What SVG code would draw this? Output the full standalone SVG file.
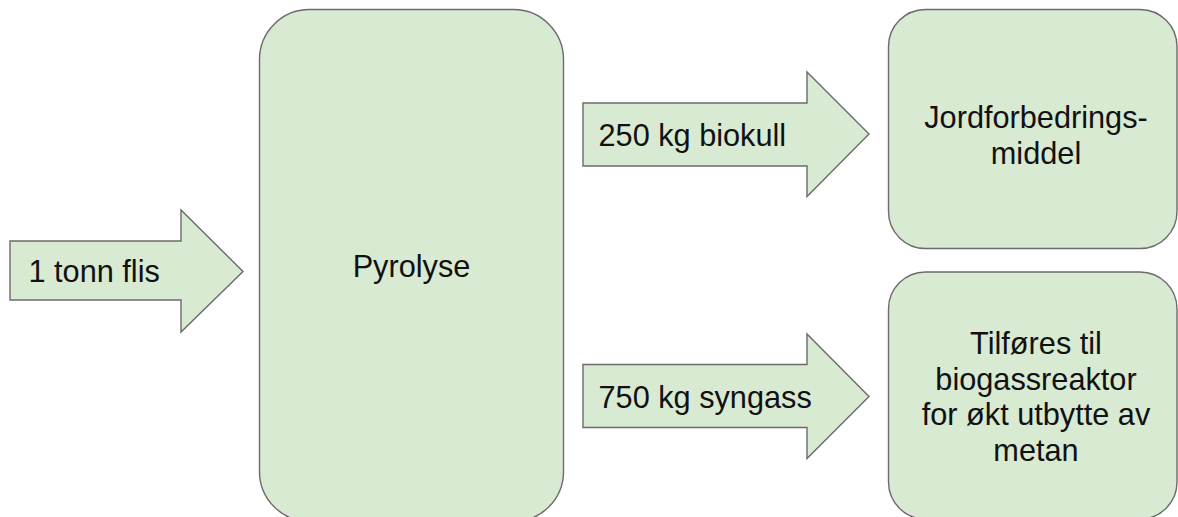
<svg xmlns="http://www.w3.org/2000/svg" width="1178" height="517" viewBox="0 0 1178 517">
  <style>
    .shape { fill: #d9ead3; stroke: #6b6b6b; stroke-width: 1.4; }
    .label { font-family: "Liberation Sans", Arial, sans-serif; font-size: 30.7px; fill: #111; }
    .mid { text-anchor: middle; }
  </style>
  <rect width="1178" height="517" fill="#ffffff"/>

  <!-- flow arrows -->
  <g id="connectors">
    <g id="arrow-input">
      <polygon class="shape" points="10,241 181,241 181,210 243,271.5 181,332 181,300 10,300"/>
      <text class="label" x="28.5" y="282">1 tonn flis</text>
    </g>
    <g id="arrow-biochar">
      <polygon class="shape" points="583,103 807,103 807,72 869,134 807,196.5 807,166 583,166"/>
      <text class="label" x="598.5" y="146">250 kg biokull</text>
    </g>
    <g id="arrow-syngas">
      <polygon class="shape" points="583,364.5 807,364.5 807,334 869,396.5 807,458.5 807,427.5 583,427.5"/>
      <text class="label" x="598.5" y="408">750 kg syngass</text>
    </g>
  </g>

  <!-- process nodes -->
  <g id="node-pyrolyse">
    <rect class="shape" x="259.5" y="9.5" width="304" height="512" rx="50" ry="50"/>
    <text class="label mid" x="411.5" y="277">Pyrolyse</text>
  </g>

  <g id="node-soil">
    <rect class="shape" x="888.5" y="9.5" width="288.5" height="239" rx="37" ry="37"/>
    <text class="label mid" x="1036" y="128">Jordforbedrings-</text>
    <text class="label mid" x="1036" y="163.5">middel</text>
  </g>

  <g id="node-biogas">
    <rect class="shape" x="888.5" y="272" width="288.5" height="247" rx="37" ry="37"/>
    <text class="label mid" x="1036" y="353.5">Tilføres til</text>
    <text class="label mid" x="1036" y="389.5">biogassreaktor</text>
    <text class="label mid" x="1036" y="425">for økt utbytte av</text>
    <text class="label mid" x="1036" y="460.5">metan</text>
  </g>
</svg>
